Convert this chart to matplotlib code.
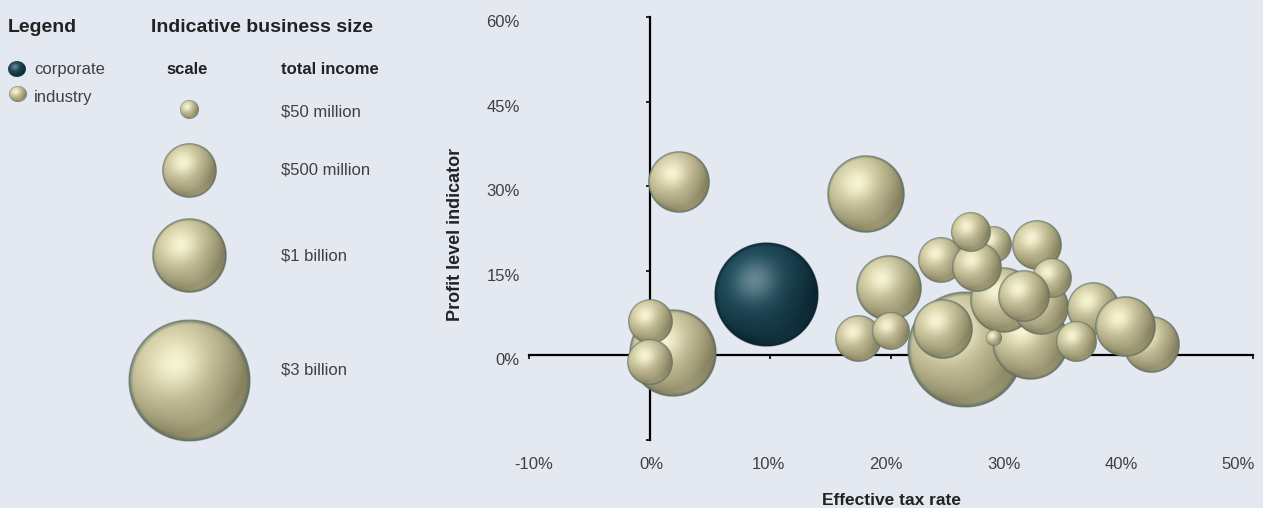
import numpy as np
import matplotlib
matplotlib.use("Agg")
import matplotlib.pyplot as plt
from matplotlib.ticker import FuncFormatter

plt.rcParams['font.family'] = ['Liberation Sans', 'DejaVu Sans']

BG = '#e4e9f1'
TEXT = '#404040'
TITLE = '#222222'

# industry bubbles, in drawing order (back to front)
tax_rate = [1.9, 0.0, 0.0, 2.45, 17.9, 26.2, 31.5, 29.3, 32.4, 32.1, 33.3, 24.1, 28.5,
            27.1, 26.6, 31.0, 28.5, 19.8, 17.3, 20.0, 24.3, 36.8, 41.6, 35.4, 39.4]
profit = [0.5, 6.0, -1.1, 30.7, 28.7, 1.1, 2.3, 9.9, 8.5, 19.5, 13.8, 16.8, 19.7,
          15.6, 21.8, 10.6, 3.0, 11.9, 3.0, 4.3, 4.6, 8.3, 1.9, 2.4, 5.1]
income = [1460, 320, 350, 675, 1120, 2730, 1060, 775, 540, 420, 257, 335, 217,
          420, 257, 460, 34, 775, 367, 230, 630, 478, 560, 272, 652]  # $ million

corp_tax_rate = 9.7
corp_profit = 10.8
corp_income = 2150

scale_income = [50, 500, 1000, 3000]
scale_labels = ['$50 million', '$500 million', '$1 billion', '$3 billion']

x_ticks = [-10, 0, 10, 20, 30, 40, 50]
y_ticks = [-15, 0, 15, 30, 45, 60]


def bubble_diameter(inc):
    # diameter in points for a total income in $ million
    return 2.3 * np.power(inc, 0.455)


def shaded_sphere(shadow, body, shine, rim, n=241):
    t = np.linspace(-1, 1, n)
    u, v = np.meshgrid(t, -t)
    r = np.hypot(u, v)
    z = np.sqrt(np.clip(1 - r ** 2, 0, None))

    def unit(vec):
        vec = np.asarray(vec, float)
        return vec / np.linalg.norm(vec)

    light = unit([-0.42, 0.52, 0.74])
    half = unit(light + [0, 0, 1])
    under = unit([0.3, -0.75, 0.6])
    lam = np.clip(u * light[0] + v * light[1] + z * light[2], 0, 1)
    spec = np.clip(u * half[0] + v * half[1] + z * half[2], 0, 1) ** 12
    bounce = np.clip(u * under[0] + v * under[1] + z * under[2], 0, 1) ** 6

    shadow, body, shine, rim = (np.array(c) / 255 for c in (shadow, body, shine, rim))
    rgb = shadow + (body - shadow) * (0.25 + 0.75 * lam)[..., None]
    rgb = rgb + (shine - rgb) * (0.8 * spec)[..., None]
    rgb = rgb + (body - shadow) * (0.2 * bounce)[..., None]
    edge = (np.clip((r - 0.91) / 0.09, 0, 1) ** 1.5)[..., None]
    rgb = rgb * (1 - edge) + rim * edge
    alpha = np.clip((1 - r) * n / 3, 0, 1)
    return np.dstack([np.clip(rgb, 0, 1), alpha])


KHAKI = shaded_sphere((105, 100, 68), (218, 213, 172), (255, 252, 222), (80, 102, 98))
TEAL = shaded_sphere((4, 26, 36), (34, 78, 94), (118, 148, 158), (10, 32, 42))


def draw_sphere(ax, x, y, w_px, h_px, img, z=3):
    cx, cy = ax.transData.transform((x, y))
    inv = ax.transData.inverted()
    (x0, y0), (x1, y1) = inv.transform([(cx - w_px / 2, cy - h_px / 2),
                                         (cx + w_px / 2, cy + h_px / 2)])
    ax.imshow(img, extent=(x0, x1, y0, y1), origin='upper', aspect='auto', zorder=z)


W, H = 1263, 508
fig = plt.figure(figsize=(W / 100, H / 100), dpi=100, facecolor=BG)
px = fig.dpi / 72

# ---- main bubble chart ----
ax = fig.add_axes([529 / W, 68 / H, 724 / W, 423 / H])
ax.patch.set_visible(False)
ax.set_xlim(-10, 50)
ax.set_ylim(-15, 60)
ax.set_autoscale_on(False)

for s in ['top', 'right']:
    ax.spines[s].set_visible(False)
for s in ['left', 'bottom']:
    ax.spines[s].set_position(('data', 0))
    ax.spines[s].set_linewidth(1.6)
    ax.spines[s].set_zorder(1)
ax.set_xticks(x_ticks)
ax.set_yticks(y_ticks)
ax.tick_params(direction='out', length=3, width=1.2, color='black',
               labelbottom=False, labelleft=False)

pct = FuncFormatter(lambda v, _: f'{v:.0f}%')

# tick labels sit along the frame edges, not on the zero lines
sx = ax.secondary_xaxis('bottom', functions=(lambda x: 20 + (x - 19.61) / 0.9727,
                                              lambda s: 19.61 + 0.9727 * (s - 20)))
sx.set_xticks(x_ticks)
sx.xaxis.set_major_formatter(pct)
sx.tick_params(length=0, pad=12, labelsize=12, labelcolor=TEXT)
sx.spines['bottom'].set_visible(False)

sy = ax.secondary_yaxis('left', functions=(lambda y: y + 0.7, lambda s: s - 0.7))
sy.set_yticks(y_ticks)
sy.yaxis.set_major_formatter(pct)
sy.tick_params(length=0, pad=6.5, labelsize=12, labelcolor=TEXT)
sy.spines['left'].set_visible(False)

for i, (x, y, inc) in enumerate(zip(tax_rate, profit, income)):
    d = bubble_diameter(inc) * px
    draw_sphere(ax, x, y, d, d, KHAKI, z=3 + i * 0.01)

d = bubble_diameter(corp_income) * px
draw_sphere(ax, corp_tax_rate, corp_profit, d, d, TEAL, z=3)

fig.text(891 / W, (H - 505) / H, 'Effective tax rate', ha='center', va='baseline',
         fontsize=12.5, fontweight='bold', color=TITLE)
fig.text(455 / W, (H - 234) / H, 'Profit level indicator', ha='center', va='center',
         rotation=90, fontsize=13, fontweight='bold', color=TITLE)

# ---- legend panel (pixel coordinates) ----
lg = fig.add_axes([0, 0, 420 / W, 1])
lg.set_xlim(0, 420)
lg.set_ylim(H, 0)
lg.set_autoscale_on(False)
lg.axis('off')

lg.text(8, 31.5, 'Legend', fontsize=14, fontweight='bold', color=TITLE, va='baseline')
lg.text(151, 31.5, 'Indicative business size', fontsize=14, fontweight='bold',
        color=TITLE, va='baseline')

draw_sphere(lg, 17, 69.5, 18, 16, TEAL)
lg.text(34, 74, 'corporate', fontsize=12, color=TEXT, va='baseline')
draw_sphere(lg, 17.5, 94.5, 18, 16, KHAKI)
lg.text(34, 102, 'industry', fontsize=12, color=TEXT, va='baseline')

lg.text(187, 74, 'scale', fontsize=12, fontweight='bold', color=TITLE,
        ha='center', va='baseline')
lg.text(281, 74, 'total income', fontsize=12, fontweight='bold', color=TITLE,
        va='baseline')

scale_y = [110, 170.5, 256, 381]
label_y = [117, 174, 261, 374]
for inc, lab, sy_, ly in zip(scale_income, scale_labels, scale_y, label_y):
    d = bubble_diameter(inc) * px
    draw_sphere(lg, 189, sy_, d, d, KHAKI)
    lg.text(281, ly, lab, fontsize=12, color=TEXT, va='baseline')

fig.savefig('out.png', dpi=100, facecolor=BG)
